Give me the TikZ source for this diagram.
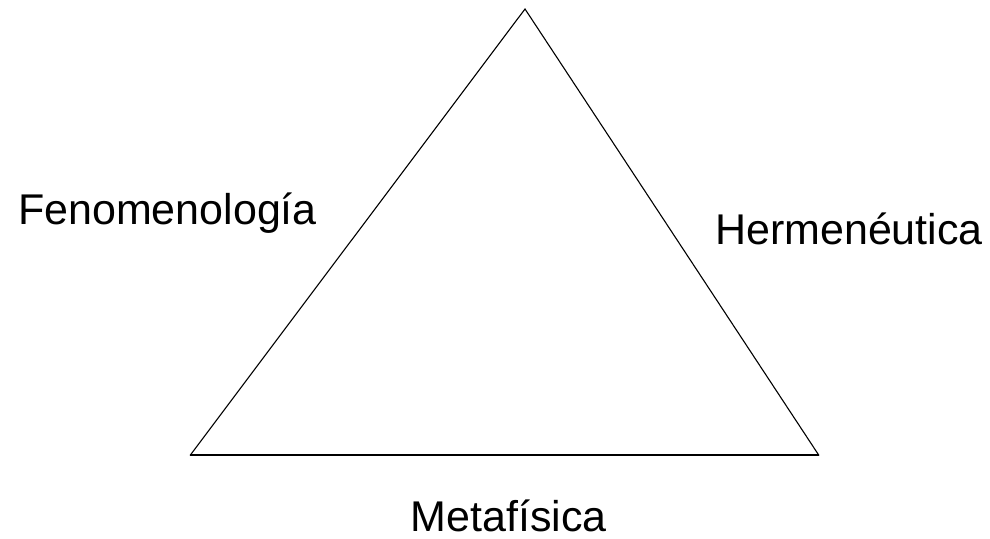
\documentclass[tikz,border=0pt]{standalone}
\usepackage{fontspec}
\setmainfont{Liberation Sans}
\begin{document}
\begin{tikzpicture}[x=1pt,y=1pt,
  lbl/.style={inner sep=0pt,anchor=base,font=\fontsize{43}{50}\selectfont},
  side/.style={line width=1.1pt,line join=miter}]
\useasboundingbox (0,0) rectangle (990,538);
\coordinate (top) at (525,529);
\coordinate (bl) at (190,82.5);
\coordinate (br) at (819,82.5);
\draw[side] (bl) -- (top) -- (br);
\draw[line width=2pt] (bl) -- (br);
\node[lbl] (fen) at (167.5,313) {Fenomenología};
\node[lbl] (her) at (849,293) {Hermenéutica};
\node[lbl] (met) at (508.5,7) {Metafísica};
\end{tikzpicture}
\end{document}
